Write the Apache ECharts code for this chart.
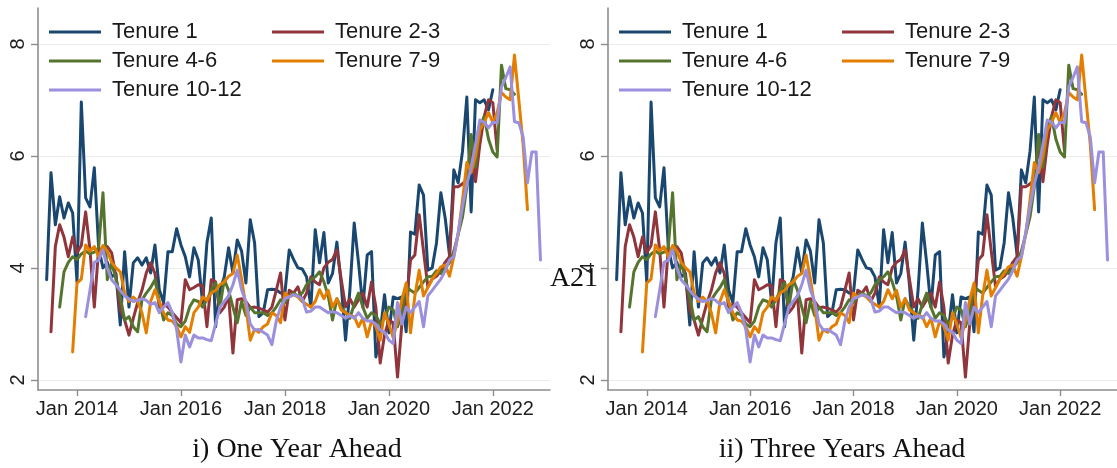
<!DOCTYPE html>
<html>
<head>
<meta charset="utf-8">
<script src="https://cdn.jsdelivr.net/npm/echarts@6/dist/echarts.min.js"></script>
<style>
  html, body { margin: 0; padding: 0; background: #ffffff; }
  #chart { width: 1117px; height: 468px; }
</style>
</head>
<body>
<div id="chart"></div>
<script>
// Months are counted from Jan 2014 (0 = Jan 2014, -7 = Jun 2013, ...)
const tickMonths = [0, 24, 48, 72, 96];
const tickLabels = ['Jan 2014', 'Jan 2016', 'Jan 2018', 'Jan 2020', 'Jan 2022'];
const yTicks = [2, 4, 6, 8];

const seriesNames = ['Tenure 1', 'Tenure 2-3', 'Tenure 4-6', 'Tenure 7-9', 'Tenure 10-12'];
const seriesColors = ['#1a476f', '#90353b', '#55752f', '#e37e00', '#9b90dd'];
const firstMonth = [-7, -6, -4, -1, 2];

const tenure1 = [
  3.79, 5.70, 4.77, 5.27, 4.89, 5.16, 4.98,
  3.75, 6.96, 5.25, 5.09, 5.79, 4.36, 4.00, 4.10, 3.84, 3.90, 2.98, 4.29,
  3.30, 4.09, 4.18, 4.05, 4.18, 3.91, 4.41, 3.61, 3.38, 4.29, 4.29, 4.70,
  4.41, 4.20, 3.84, 4.36, 4.14, 3.38, 4.45, 4.89, 2.95, 3.60, 3.84, 4.36,
  3.91, 4.50, 4.30, 3.73, 4.86, 4.45, 3.13, 3.20, 3.61, 3.62, 3.61, 3.55,
  3.55, 4.32, 4.15, 4.00, 3.98, 3.84, 3.30, 4.68, 4.09, 4.63, 3.73, 3.90,
  4.46, 3.70, 2.71, 3.60, 4.80, 4.09, 3.30, 4.23, 4.29, 2.41, 2.84, 3.52,
  2.84, 3.48, 3.45, 3.48, 2.86, 4.64, 4.60, 5.48, 5.30, 3.96, 4.00, 4.45,
  5.34, 4.89, 4.23, 5.75, 5.52, 6.08, 7.05, 5.00, 7.00, 6.95, 7.00, 6.82,
  7.18
];
const tenure2to3 = [
  2.86, 4.38, 4.77, 4.55, 4.20, 4.55,
  4.27, 4.40, 5.00, 4.32, 3.30, 4.35, 4.30, 4.38, 4.27, 3.84, 3.25, 3.07,
  2.80, 3.10, 3.38, 3.60, 3.91, 4.09, 3.90, 3.30, 3.35, 3.30, 3.20, 3.11,
  3.02, 3.79, 3.61, 3.65, 3.70, 3.68, 2.95, 3.79, 3.75, 3.20, 3.30, 3.50,
  2.48, 3.43, 3.45, 3.40, 3.29, 3.30, 3.28, 3.25, 3.21, 3.30, 3.60, 3.91,
  3.07, 3.60, 3.55, 3.66, 3.40, 3.55, 3.84, 3.75, 3.70, 4.00, 4.10, 4.15,
  4.32, 3.80, 3.30, 3.45, 3.30, 3.43, 3.55, 3.30, 3.75, 3.30, 2.30, 2.80,
  3.07, 3.02, 2.05, 3.00, 3.39, 4.14, 4.23, 4.95, 4.30, 3.66, 3.80, 3.85,
  3.95, 4.10, 4.20, 5.45, 5.45, 5.50, 5.57, 6.20, 5.54, 6.20, 6.70, 7.00,
  6.95, 6.10
];
const tenure4to6 = [
  3.30, 3.93, 4.10, 4.20,
  4.15, 4.25, 4.30, 4.25, 4.28, 4.36, 5.34, 3.79, 4.09, 3.80, 3.48, 3.07,
  3.13, 2.95, 2.86, 3.43, 3.55, 3.65, 3.79, 3.40, 3.07, 3.20, 3.15, 3.00,
  2.95, 3.05, 3.30, 3.43, 3.40, 3.30, 3.43, 3.60, 3.73, 3.30, 3.79, 3.60,
  3.30, 3.02, 3.40, 3.15, 3.30, 3.20, 3.20, 3.20, 3.15, 3.20, 3.30, 3.43,
  3.38, 3.50, 3.55, 3.50, 3.55, 3.70, 3.79, 3.84, 3.93, 3.75, 3.50, 3.07,
  3.45, 3.30, 3.20, 3.10, 3.35, 3.55, 3.30, 3.10, 3.20, 3.15, 3.00, 3.10,
  3.30, 3.25, 2.95, 3.20, 3.66, 3.60, 3.55, 3.65, 3.75, 3.84, 3.85, 3.95,
  3.90, 4.00, 4.09, 4.30, 4.60, 4.91, 5.45, 6.38, 5.80, 6.52, 6.70, 6.30,
  6.07, 5.98, 7.62, 7.20, 7.18, 7.10
];
const tenure7to9 = [
  2.50,
  3.73, 3.80, 4.41, 4.30, 4.38, 4.20, 4.40, 4.30, 4.10, 4.00, 3.93, 3.55,
  3.40, 3.48, 3.40, 3.20, 2.84, 3.40, 3.61, 3.40, 3.20, 3.07, 3.05, 2.95,
  2.77, 2.95, 2.85, 3.20, 3.30, 3.48, 3.42, 3.55, 3.60, 3.70, 3.75, 3.85,
  3.90, 4.23, 3.80, 3.30, 2.71, 2.90, 2.85, 2.95, 3.00, 3.20, 3.15, 3.02,
  3.55, 3.48, 3.52, 3.48, 3.40, 3.35, 3.30, 3.40, 3.61, 3.45, 3.60, 3.30,
  3.45, 3.25, 3.20, 3.15, 3.13, 2.95, 3.10, 2.77, 3.05, 2.95, 2.71, 3.20,
  3.00, 2.75, 3.05, 3.43, 3.73, 2.84, 3.50, 3.96, 3.50, 3.65, 3.80, 3.90,
  4.02, 4.05, 3.85, 4.20, 4.60, 5.21, 5.88, 5.70, 6.00, 6.46, 6.60, 6.77,
  6.60, 6.77, 7.13, 7.05, 7.00, 7.80, 7.00, 6.20, 5.04
];
const tenure10to12 = [
  3.13, 3.60, 4.10, 4.14, 4.32, 4.00, 3.79, 3.70, 3.60, 3.50,
  3.45, 3.40, 3.42, 3.45, 3.42, 3.35, 3.38, 3.20, 3.30, 3.38, 3.20, 2.90,
  2.32, 2.80, 2.59, 2.80, 2.75, 2.75, 2.72, 2.70, 3.00, 3.30, 3.40, 3.50,
  3.70, 3.96, 3.61, 3.40, 3.00, 2.89, 2.90, 2.85, 2.80, 2.63, 3.05, 3.30,
  3.45, 3.48, 3.52, 3.50, 3.45, 3.21, 3.23, 3.30, 3.30, 3.25, 3.20, 3.22,
  3.20, 3.15, 3.10, 3.15, 3.10, 3.20, 3.10, 3.05, 3.05, 3.00, 2.89, 2.85,
  2.71, 2.65, 3.38, 3.00, 3.30, 3.20, 3.30, 3.40, 2.95, 3.50, 3.60, 3.70,
  3.80, 3.95, 4.14, 4.20, 4.63, 5.09, 5.50, 5.80, 6.20, 6.64, 6.60, 6.50,
  6.60, 6.59, 7.23, 7.40, 7.59, 6.61, 6.59, 6.34, 5.52, 6.07, 6.07, 4.14
];
const seriesValues = [tenure1, tenure2to3, tenure4to6, tenure7to9, tenure10to12];

const panelTitles = ['i) One Year Ahead', 'ii) Three Years Ahead'];
const pageMark = 'A21';

// ---- layout ----
const panelLeft = [38, 608];
const plotTop = 8, plotWidth = 512, plotHeight = 382;
const legendCols = [11, 234];        // icon offsets from the panel's left edge
const legendRows = [32, 61, 90];     // row centres
const sansFont = '"Liberation Sans", Arial, sans-serif';
const axisGrey = '#8d8d8d';

function seriesData(k) {
  return seriesValues[k].map((v, i) => [firstMonth[k] + i, v]);
}

const grids = [], xAxes = [], yAxes = [], series = [], legends = [];

panelLeft.forEach((left, p) => {
  grids.push({ left: left, top: plotTop, width: plotWidth, height: plotHeight, containLabel: false });

  xAxes.push({
    type: 'value', gridIndex: p, min: -9, max: 109.2,
    axisLine: { show: true, onZero: false, lineStyle: { color: axisGrey, width: 1.6 } },
    axisTick: { show: true, customValues: tickMonths, length: 6, lineStyle: { color: axisGrey, width: 1.4 } },
    axisLabel: {
      customValues: tickMonths,
      formatter: v => tickLabels[tickMonths.indexOf(v)],
      fontSize: 20, color: '#1e1e1e', margin: 9, fontFamily: sansFont
    },
    splitLine: { show: false }
  });

  yAxes.push({
    type: 'value', gridIndex: p, min: 1.82, max: 8.64,
    axisLine: { show: true, onZero: false, lineStyle: { color: axisGrey, width: 1.6 } },
    axisTick: { show: true, customValues: yTicks, length: 7, lineStyle: { color: axisGrey, width: 1.4 } },
    axisLabel: {
      customValues: yTicks, rotate: 90,
      fontSize: 20, color: '#1e1e1e', margin: 10, fontFamily: sansFont
    },
    splitLine: { show: true, lineStyle: { color: '#ebebeb', width: 1 } }
  });

  seriesNames.forEach((name, k) => {
    series.push({
      name: name, type: 'line', xAxisIndex: p, yAxisIndex: p,
      data: seriesData(k), showSymbol: false, symbol: 'none',
      color: seriesColors[k],
      lineStyle: { width: 3, color: seriesColors[k], join: 'round', cap: 'round' },
      silent: true, animation: false
    });
    const row = Math.floor(k / 2), col = k % 2;
    legends.push({
      data: [name],
      left: left + legendCols[col], top: legendRows[row] - 11,
      orient: 'horizontal', padding: 0, itemGap: 0,
      itemWidth: 52, itemHeight: 3, icon: 'rect',
      selectedMode: false,
      textStyle: { fontSize: 22, color: '#1a1a1a', fontFamily: sansFont, padding: [0, 0, 0, 6] }
    });
  });
});

const captionCentres = [297, 842];
const graphics = panelTitles.map((t, p) => ({
  type: 'text', x: captionCentres[p], y: 450, silent: true,
  style: { text: t, fill: '#111', font: '28px "Liberation Serif", "Times New Roman", serif',
           textAlign: 'center', textVerticalAlign: 'middle' }
}));
graphics.push({
  type: 'text', x: 574, y: 279, silent: true,
  style: { text: pageMark, fill: '#111', font: '28px "Liberation Serif", "Times New Roman", serif',
           textAlign: 'center', textVerticalAlign: 'middle' }
});

const chart = echarts.init(document.getElementById('chart'), null, { renderer: 'canvas' });
chart.setOption({
  animation: false,
  backgroundColor: '#ffffff',
  grid: grids,
  xAxis: xAxes,
  yAxis: yAxes,
  legend: legends,
  series: series,
  graphic: graphics
});
</script>
</body>
</html>
